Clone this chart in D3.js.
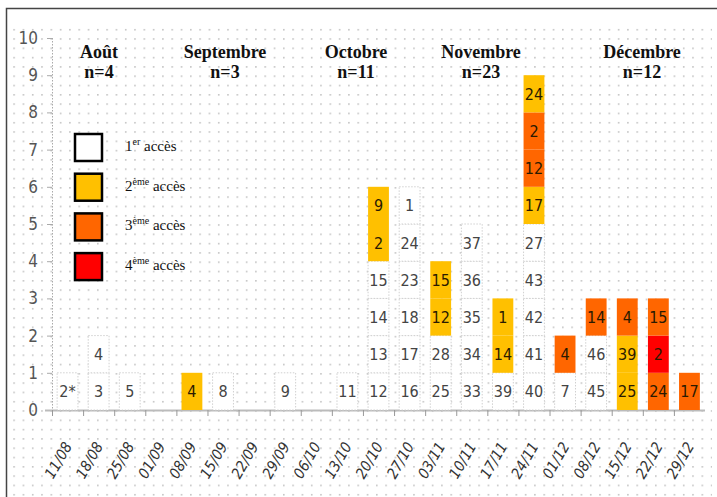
<!DOCTYPE html>
<meta charset="utf-8">
<style>
  body { margin: 0; background: #fff; }
  .ylab { font-family: "Liberation Sans Narrow", "DejaVu Sans Condensed", sans-serif; font-size: 17px; fill: #555; }
  .xlab { font-family: "Liberation Sans Narrow", "DejaVu Sans Condensed", sans-serif; font-size: 15px; fill: #333; font-style: italic; }
  .num { font-family: "Liberation Sans Narrow", "DejaVu Sans Condensed", sans-serif; font-size: 16px; text-anchor: middle; }
  .month { font-family: "Liberation Serif", "Times New Roman", serif; font-weight: bold; font-size: 18px; text-anchor: middle; fill: #111; }
  .leg { font-family: "Liberation Serif", "Times New Roman", serif; font-size: 15px; fill: #111; }
</style>
<body>
<script src="https://d3js.org/d3.v7.min.js"></script>
<script>
var weeks = ["11/08","18/08","25/08","01/09","08/09","15/09","22/09","29/09","06/10","13/10",
             "20/10","27/10","03/11","10/11","17/11","24/11","01/12","08/12","15/12","22/12","29/12"];

// labels of the stacked boxes, bottom to top, per week
var boxLabels = [
  ["2*"], ["3","4"], ["5"], [], ["4"], ["8"], [], ["9"], [], ["11"],
  ["12","13","14","15","2","9"],
  ["16","17","18","23","24","1"],
  ["25","28","12","15"],
  ["33","34","35","36","37"],
  ["39","14","1"],
  ["40","41","42","43","27","17","12","2","24"],
  ["7","4"],
  ["45","46","14"],
  ["25","39","4"],
  ["24","2","15"],
  ["17"]
];
// access rank of each box (1 = 1er accès ... 4 = 4ème accès)
var boxAccess = [
  [1], [1,1], [1], [], [2], [1], [], [1], [], [1],
  [1,1,1,1,2,2],
  [1,1,1,1,1,1],
  [1,1,2,2],
  [1,1,1,1,1],
  [1,2,2],
  [1,1,1,1,1,2,3,3,2],
  [1,3],
  [1,1,3],
  [2,2,3],
  [3,4,3],
  [3]
];

var months = ["Août","Septembre","Octobre","Novembre","Décembre"];
var monthN = [4, 3, 11, 23, 12];
var monthX = [99, 225, 356, 481, 642];

var accessLabels = [["1","er"],["2","ème"],["3","ème"],["4","ème"]];
var accessColors = ["#ffffff","#ffc000","#ff6600","#ff0000"];
var yTicks = [0,1,2,3,4,5,6,7,8,9,10];

var width = 717, height = 497;

var svg = d3.select("body").append("svg")
    .attr("width", width)
    .attr("height", height);

// dotted background
var defs = svg.append("defs");
defs.append("pattern")
    .attr("id", "dots")
    .attr("patternUnits", "userSpaceOnUse")
    .attr("x", 4).attr("y", 1)
    .attr("width", 9.3).attr("height", 9.3)
  .append("rect")
    .attr("width", 1.6).attr("height", 1.6)
    .attr("fill", "#c4c4c4");

svg.append("rect")
    .attr("x", 12).attr("y", 28)
    .attr("width", 700).attr("height", 469)
    .attr("fill", "url(#dots)");

// frame (only top and left edges visible)
svg.append("path")
    .attr("d", "M6.5," + height + "V8.5H" + width)
    .attr("fill", "none")
    .attr("stroke", "#444")
    .attr("stroke-width", 1.5);

var x = d3.scaleBand()
    .domain(weeks)
    .range([52, 705])
    .paddingInner(0.33)
    .paddingOuter(0.165);

var y = d3.scaleLinear()
    .domain([0, 10])
    .range([410, 38]);

var step = x.step();

// y axis
svg.append("line")
    .attr("x1", 52.5).attr("x2", 52.5)
    .attr("y1", y(10)).attr("y2", y(0))
    .attr("stroke", "#aaa")
    .attr("stroke-dasharray", "1.5,1.5");

svg.selectAll(".ytick")
    .data(yTicks)
  .enter().append("line")
    .attr("x1", 47).attr("x2", 52)
    .attr("y1", function(d) { return y(d) + 0.5; })
    .attr("y2", function(d) { return y(d) + 0.5; })
    .attr("stroke", "#aaa");

svg.selectAll(".ylab")
    .data(yTicks)
  .enter().append("text")
    .attr("class", "ylab")
    .attr("x", 38)
    .attr("y", function(d) { return y(d) + 6; })
    .attr("text-anchor", "end")
    .text(function(d) { return d; });

// x axis
svg.append("line")
    .attr("x1", 45).attr("x2", 705)
    .attr("y1", y(0) + 0.5).attr("y2", y(0) + 0.5)
    .attr("stroke", "#bbb")
    .attr("stroke-width", 2);

svg.selectAll(".xtick")
    .data(weeks)
  .enter().append("line")
    .attr("x1", function(d) { return x(d) - x.paddingOuter() * step + 0.5; })
    .attr("x2", function(d) { return x(d) - x.paddingOuter() * step + 0.5; })
    .attr("y1", y(0)).attr("y2", y(0) + 6)
    .attr("stroke", "#999");

svg.selectAll(".xlab")
    .data(weeks)
  .enter().append("text")
    .attr("class", "xlab")
    .attr("text-anchor", "end")
    .attr("transform", function(d) {
      return "translate(" + (x(d) + x.bandwidth() / 2 + 5) + "," + 446 + ") rotate(-60)";
    })
    .text(function(d) { return d; });

// stacked boxes
var boxes = [];
weeks.forEach(function(w, i) {
  boxLabels[i].forEach(function(lab, j) {
    boxes.push({week: w, level: j, label: lab, access: boxAccess[i][j]});
  });
});

var g = svg.append("g");

g.selectAll("rect.box")
    .data(boxes)
  .enter().append("rect")
    .attr("class", "box")
    .attr("x", function(d) { return x(d.week); })
    .attr("y", function(d) { return y(d.level + 1); })
    .attr("width", x.bandwidth())
    .attr("height", function(d) { return y(d.level) - y(d.level + 1); })
    .attr("fill", function(d) { return accessColors[d.access - 1]; })
    .attr("stroke", function(d) { return d.access == 1 ? "#d0d0d0" : "none"; })
    .attr("stroke-dasharray", "1.5,1.5");

g.selectAll("text.num")
    .data(boxes)
  .enter().append("text")
    .attr("class", "num")
    .attr("x", function(d) { return x(d.week) + x.bandwidth() / 2; })
    .attr("y", function(d) { return y(d.level + 0.5) + 6; })
    .attr("fill", function(d) { return d.access == 1 ? "#444" : "#2a1a00"; })
    .text(function(d) { return d.label; });

// month headers
var mh = svg.selectAll(".month")
    .data(months)
  .enter().append("text")
    .attr("class", "month")
    .attr("x", function(d, i) { return monthX[i]; })
    .attr("y", 58);
mh.append("tspan")
    .text(function(d) { return d; });
mh.append("tspan")
    .attr("x", function(d, i) { return monthX[i]; })
    .attr("dy", 20)
    .text(function(d, i) { return "n=" + monthN[i]; });

// legend
var leg = svg.selectAll(".legrow")
    .data(accessLabels)
  .enter().append("g")
    .attr("class", "legrow")
    .attr("transform", function(d, i) { return "translate(74," + (133 + i * 39.7) + ")"; });

leg.append("rect")
    .attr("x", 1).attr("y", 1)
    .attr("width", 27).attr("height", 27)
    .attr("fill", function(d, i) { return accessColors[i]; })
    .attr("stroke", "#000")
    .attr("stroke-width", 2.5);

var lt = leg.append("text")
    .attr("class", "leg")
    .attr("x", 51)
    .attr("y", 18);
lt.append("tspan").text(function(d) { return d[0]; });
lt.append("tspan")
    .attr("dy", -6)
    .attr("font-size", "10px")
    .text(function(d) { return d[1]; });
lt.append("tspan")
    .attr("dy", 6)
    .text(" accès");
</script>
</body>
</html>
